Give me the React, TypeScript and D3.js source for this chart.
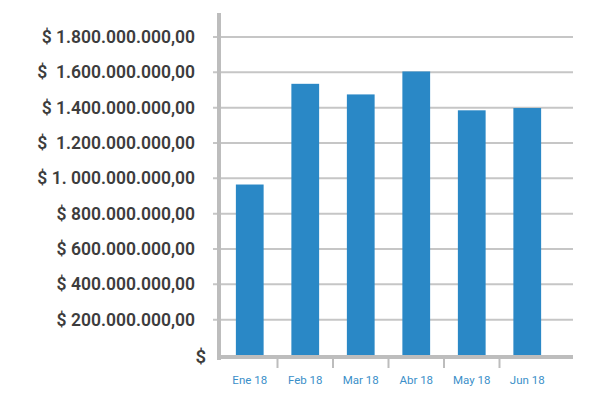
import React from 'react';
import * as d3 from 'd3';

const months = ['Ene 18', 'Feb 18', 'Mar 18', 'Abr 18', 'May 18', 'Jun 18'];
const amounts = [965e6, 1535e6, 1475e6, 1605e6, 1385e6, 1398e6];
const tickValues = [0, 200e6, 400e6, 600e6, 800e6, 1000e6, 1200e6, 1400e6, 1600e6, 1800e6];
const tickLabels = [
  '$',
  '$ 200.000.000,00',
  '$ 400.000.000,00',
  '$ 600.000.000,00',
  '$ 800.000.000,00',
  '$ 1. 000.000.000,00',
  '$  1.200.000.000,00',
  '$ 1.400.000.000,00',
  '$  1.600.000.000,00',
  '$ 1.800.000.000,00',
];

const width = 600;
const height = 400;
const axisX = 219;
const baseY = 357;
const rightX = 573;

const App: React.FC = () => {
  const x = d3.scaleBand<string>()
    .domain(months)
    .range([222, 555])
    .paddingInner(0.5)
    .paddingOuter(0.25);

  const y = d3.scaleLinear()
    .domain([0, 1800e6])
    .range([355, 37]);

  const step = x.step();
  const font = 'Roboto, "DejaVu Sans", sans-serif';

  return (
    <svg width={width} height={height} style={{ position: 'absolute', left: 0, top: 0, background: '#fff' }}>
      {/* gridlines + tick stubs */}
      {tickValues.slice(1).map(v => (
        <line key={v} x1={213} x2={rightX} y1={y(v)} y2={y(v)} stroke="#c6c6c6" strokeWidth={2} />
      ))}

      {/* bars */}
      {amounts.map((v, i) => (
        <rect
          key={months[i]}
          x={x(months[i])}
          y={y(v)}
          width={x.bandwidth()}
          height={y(0) - y(v)}
          fill="#2a88c6"
        />
      ))}

      {/* axes */}
      <line x1={axisX} x2={axisX} y1={13} y2={baseY + 3} stroke="#bdbdbd" strokeWidth={4} />
      <line x1={axisX - 2} x2={rightX} y1={baseY} y2={baseY} stroke="#bdbdbd" strokeWidth={4} />
      {months.slice(1).map(m => (
        <line key={m} x1={(x(m) as number) - (step - x.bandwidth()) / 2} x2={(x(m) as number) - (step - x.bandwidth()) / 2}
          y1={baseY} y2={baseY + 11} stroke="#bdbdbd" strokeWidth={2} />
      ))}

      {/* y labels */}
      {tickValues.map((v, i) => (
        <text
          key={v}
          x={i === 0 ? 206 : 195}
          y={i === 0 ? baseY : y(v)}
          dy="0.35em"
          textAnchor="end"
          fontFamily={font}
          fontWeight={600}
          fontSize={i === 0 ? 18.5 : 17.5}
          fill="#3d3d3d"
          style={{ whiteSpace: 'pre' }}
        >
          {tickLabels[i]}
        </text>
      ))}

      {/* x labels */}
      {months.map(m => (
        <text
          key={m}
          x={(x(m) as number) + x.bandwidth() / 2}
          y={380}
          dy="0.35em"
          textAnchor="middle"
          fontFamily={font}
          fontSize={11.5}
          fill="#3b8fc9"
        >
          {m}
        </text>
      ))}
    </svg>
  );
};

export default App;
